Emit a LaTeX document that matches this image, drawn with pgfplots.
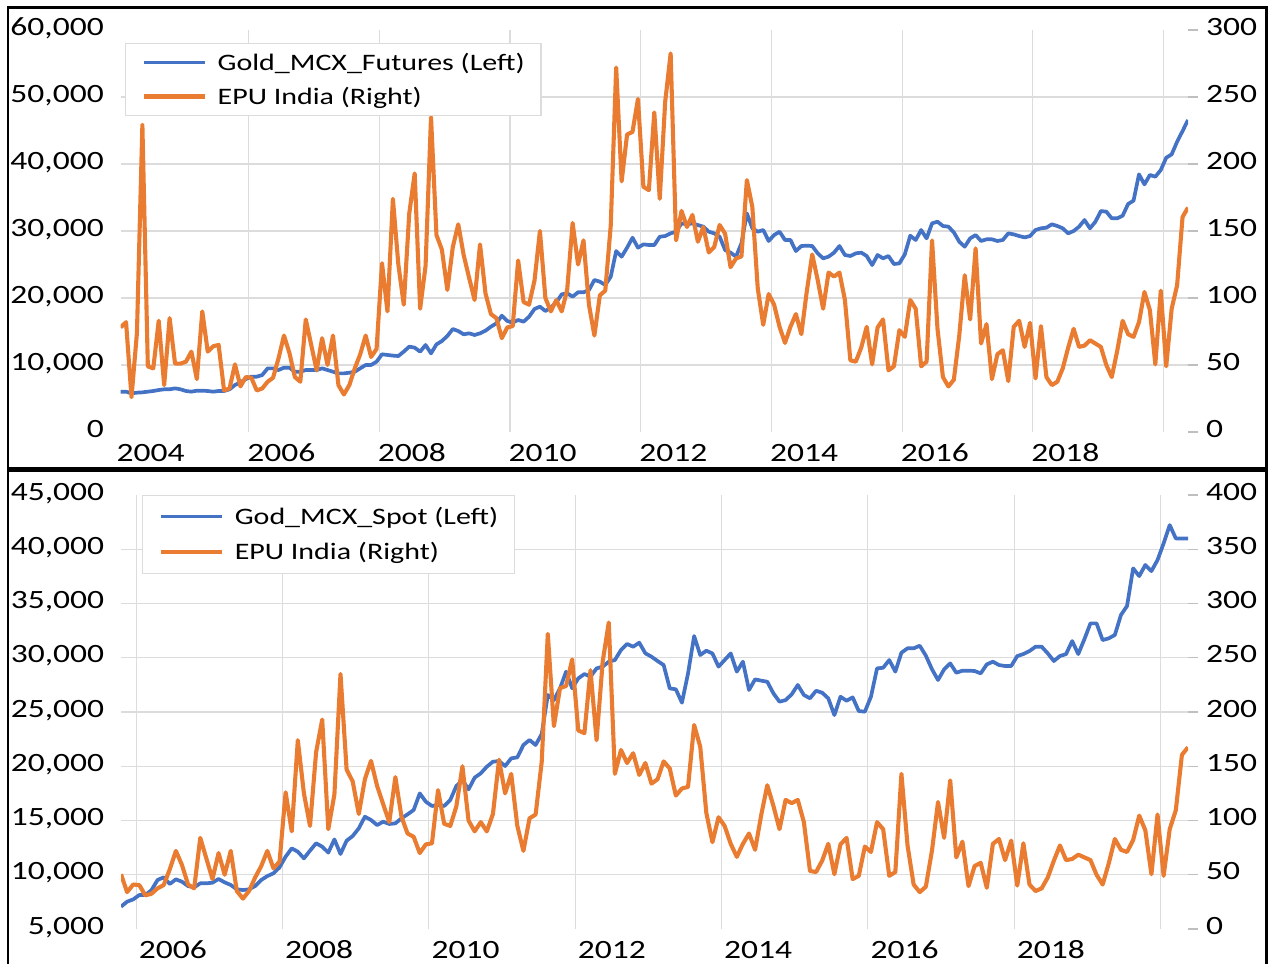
\documentclass[border=0pt]{standalone}
\usepackage{fontspec}
\setmainfont{Carlito}[FakeStretch=1.27]
\usepackage{pgfplots}
\usepackage{pgfplotstable}
\pgfplotsset{compat=1.18}

\definecolor{goldblue}{HTML}{4472C4}
\definecolor{epuorange}{HTML}{E97C30}
\definecolor{gridgray}{HTML}{DCDCDC}
\definecolor{tickgray}{HTML}{BFBFBF}

\newcommand{\tickfont}{\fontsize{13.2bp}{15bp}\selectfont}
\newcommand{\legfont}{\fontsize{11.8bp}{14bp}\selectfont}

% monthly data, m = months since Jan 2004
\pgfplotstableread[row sep=\\]{
m v\\
0 78\\1 82\\2 26\\3 74\\4 229\\5 49\\6 47.5\\7 83\\8 35\\9 85\\
10 51\\11 51\\12 52.5\\13 60\\14 39.5\\15 90\\16 60\\17 64\\18 65\\19 31\\
20 32.5\\21 50.5\\22 34\\23 41\\24 40.5\\25 31\\26 32.5\\27 37.5\\28 40.5\\29 55\\
30 72\\31 59\\32 41\\33 37.5\\34 84\\35 65\\36 46\\37 70\\38 50\\39 72\\
40 35\\41 28\\42 35\\43 47.5\\44 58\\45 72\\46 56\\47 62\\48 126\\49 90\\
50 174\\51 125\\52 95\\53 163\\54 193\\55 92\\56 124\\57 235\\58 147\\59 136\\
60 106\\61 138\\62 155\\63 132\\64 115\\65 98.5\\66 140\\67 103.5\\68 88\\69 85\\
70 70\\71 78\\72 79\\73 128\\74 97\\75 95\\76 113\\77 150\\78 100\\79 90\\
80 98.5\\81 90\\82 106\\83 156\\84 125\\85 143\\86 95\\87 72\\88 102\\89 105.5\\
90 154\\91 272\\92 187\\93 222\\94 224\\95 248.5\\96 183\\97 180.5\\98 238.5\\99 174\\
100 246.5\\101 282.5\\102 143\\103 165\\104 153\\105 162\\106 142\\107 153\\108 134\\109 138\\
110 154.5\\111 148\\112 123\\113 129.5\\114 131\\115 188\\116 168\\117 107\\118 80\\119 103\\
120 95\\121 78.5\\122 66.5\\123 78.5\\124 88\\125 73\\126 105\\127 132.5\\128 113.5\\129 92\\
130 119\\131 116\\132 119\\133 98.5\\134 53.5\\135 52.5\\136 63\\137 78.5\\138 50.5\\139 78\\
140 84\\141 46\\142 49\\143 76\\144 71\\145 98.5\\146 92\\147 49\\148 52.5\\149 143\\
150 77\\151 41\\152 34\\153 39\\154 72\\155 117\\156 84\\157 137\\158 66\\159 80.5\\
160 39.5\\161 58\\162 61\\163 38\\164 78.5\\165 83\\166 63.5\\167 81.5\\168 40\\169 79\\
170 41\\171 35\\172 37.5\\173 47.5\\174 63\\175 77\\176 63.5\\177 64.5\\178 68.5\\179 66\\
180 63.5\\181 50\\182 41\\183 60.5\\184 83\\185 73\\186 71\\187 82\\188 104.5\\189 91\\
190 50.5\\191 105.5\\192 49\\193 92\\194 109.5\\195 160.5\\196 167.5\\
}\epu

\pgfplotstableread[row sep=\\]{
m v\\
0 6020\\1 6020\\2 5770\\3 5870\\4 5920\\5 6020\\6 6120\\7 6270\\8 6370\\9 6370\\
10 6520\\11 6370\\12 6120\\13 6020\\14 6170\\15 6170\\16 6120\\17 6020\\18 6120\\19 6120\\
20 6370\\21 7015\\22 7410\\23 7910\\24 8260\\25 8260\\26 8500\\27 9500\\28 9500\\29 9250\\
30 9600\\31 9600\\32 9000\\33 9000\\34 9250\\35 9250\\36 9250\\37 9500\\38 9250\\39 9000\\
40 8750\\41 8750\\42 8850\\43 9000\\44 9500\\45 10000\\46 10000\\47 10500\\48 11600\\49 11500\\
50 11400\\51 11340\\52 12000\\53 12740\\54 12590\\55 11990\\56 12985\\57 11740\\58 13080\\59 13580\\
60 14330\\61 15370\\62 15070\\63 14580\\64 14730\\65 14480\\66 14730\\67 15120\\68 15720\\69 16220\\
70 17360\\71 16570\\72 16320\\73 16720\\74 16470\\75 17210\\76 18360\\77 18710\\78 18060\\79 18560\\
80 19350\\81 20550\\82 20700\\83 20200\\84 20850\\85 20850\\86 21190\\87 22690\\88 22440\\89 21940\\
90 23180\\91 27010\\92 26170\\93 27510\\94 29000\\95 27510\\96 28010\\97 27910\\98 27910\\99 29150\\
100 29250\\101 29650\\102 29900\\103 31140\\104 30990\\105 31140\\106 30890\\107 30650\\108 29900\\109 29650\\
110 29150\\111 27160\\112 26770\\113 26170\\114 28160\\115 32640\\116 30400\\117 29900\\118 30150\\119 28510\\
120 29400\\121 29900\\122 28660\\123 28660\\124 27010\\125 27760\\126 27810\\127 27760\\128 26670\\129 25920\\
130 26170\\131 26770\\132 27760\\133 26420\\134 26270\\135 26670\\136 26770\\137 26270\\138 24920\\139 26420\\
140 25920\\141 26270\\142 25070\\143 25170\\144 26520\\145 29300\\146 28660\\147 30150\\148 28900\\149 31140\\
150 31390\\151 30750\\152 30650\\153 29800\\154 28400\\155 27660\\156 28900\\157 29400\\158 28510\\159 28760\\
160 28760\\161 28510\\162 28660\\163 29650\\164 29500\\165 29250\\166 29050\\167 29250\\168 30150\\169 30400\\
170 30500\\171 31000\\172 30750\\173 30400\\174 29650\\175 30000\\176 30650\\177 31640\\178 30400\\179 31390\\
180 32980\\181 32890\\182 31890\\183 31890\\184 32290\\185 34030\\186 34530\\187 38460\\188 36960\\189 38360\\
190 38110\\191 39100\\192 40940\\193 41440\\194 43330\\195 44920\\196 46570\\
}\futures

\pgfplotstableread[row sep=\\]{
m v\\
21 7060\\22 7520\\23 7730\\24 8130\\25 8130\\26 8590\\27 9520\\28 9760\\29 9150\\
30 9580\\31 9360\\32 8960\\33 8840\\34 9210\\35 9210\\36 9270\\37 9610\\38 9300\\39 9060\\
40 8660\\41 8590\\42 8660\\43 8960\\44 9520\\45 9880\\46 10130\\47 10680\\48 11670\\49 12430\\
50 12130\\51 11510\\52 12220\\53 12900\\54 12590\\55 12040\\56 13260\\57 11910\\58 13140\\59 13570\\
60 14280\\61 15350\\62 15050\\63 14580\\64 14890\\65 14680\\66 14740\\67 15200\\68 15570\\69 15970\\
70 17500\\71 16730\\72 16340\\73 16430\\74 16340\\75 16890\\76 18180\\77 18730\\78 17870\\79 18950\\
80 19350\\81 19960\\82 20420\\83 20480\\84 20020\\85 20730\\86 20820\\87 21960\\88 22420\\89 21960\\
90 22970\\91 26570\\92 26100\\93 27180\\94 28720\\95 27180\\96 28100\\97 28500\\98 28260\\99 29020\\
100 29180\\101 29640\\102 29790\\103 30710\\104 31270\\105 31020\\106 31390\\107 30410\\108 30100\\109 29700\\
110 29330\\111 27180\\112 27090\\113 25860\\114 28560\\115 32000\\116 30250\\117 30650\\118 30400\\119 29180\\
120 29790\\121 30400\\122 28720\\123 29640\\124 27030\\125 28010\\126 27890\\127 27790\\128 26720\\129 25950\\
130 26100\\131 26630\\132 27490\\133 26570\\134 26260\\135 26960\\136 26780\\137 26260\\138 24720\\139 26410\\
140 26040\\141 26350\\142 25090\\143 25030\\144 26410\\145 29020\\146 29080\\147 29790\\148 28720\\149 30470\\
150 30870\\151 30870\\152 31110\\153 30200\\154 28950\\155 27950\\156 28930\\157 29480\\158 28620\\159 28810\\
160 28810\\161 28780\\162 28560\\163 29390\\164 29640\\165 29330\\166 29240\\167 29240\\168 30160\\169 30340\\
170 30620\\171 31020\\172 31020\\173 30400\\174 29700\\175 30160\\176 30340\\177 31540\\178 30340\\179 31700\\
180 33170\\181 33170\\182 31630\\183 31790\\184 32100\\185 33940\\186 34770\\187 38240\\188 37530\\189 38550\\
190 37990\\191 39010\\192 40540\\193 42230\\194 41000\\195 41000\\196 41000\\
}\spot

\pgfplotsset{
  panel/.style={
    scale only axis,
    axis line style={draw=none},
    scaled y ticks=false,
    tick label style={font=\tickfont},
    /pgf/number format/1000 sep={,},
    /pgf/number format/assume math mode=true,
  },
  leftaxis/.style={
    panel,
    major tick length=0pt,
    ymajorgrids,
    grid style={draw=gridgray, line width=0.55bp},
    extra y tick style={grid=none},
    extra x ticks={23.5,47.5,...,191.5},
    extra x tick labels={},
    extra x tick style={grid=major},
    yticklabel style={anchor=base east, inner sep=0pt, xshift=-8.2bp, yshift=-2.5bp},
    xticklabel style={anchor=base, inner sep=0pt, yshift=-14.8bp},
  },
  rightaxis/.style={
    panel,
    xtick=\empty,
    ytick pos=right,
    yticklabel pos=right,
    tick align=outside,
    major tick length=5bp,
    tick style={draw=tickgray, line width=0.6bp},
    yticklabel style={anchor=base west, inner sep=0pt, xshift=3.8bp, yshift=-2.5bp},
    legend cell align=left,
    legend image code/.code={\draw[##1] (0bp,0bp) -- (30.5bp,0bp);},
    legend style={draw=gridgray, line width=0.6bp, fill=white, font=\legfont,
      inner xsep=8.2bp, inner ysep=1bp, row sep=0pt,
      nodes={inner sep=0pt, text height=12.3bp, text depth=4.7bp},
      /tikz/every odd column/.style={column sep=5.5bp}},
  },
  goldline/.style={draw=goldblue, line width=1.85bp, line join=round},
  epuline/.style={draw=epuorange, line width=2.05bp, line join=round},
}

\begin{document}
\begin{tikzpicture}
\useasboundingbox (0,0) rectangle (635.5bp,-482bp);
\clip (0,0) rectangle (635.5bp,-482bp);

% top panel: futures
\begin{axis}[leftaxis,
  at={(60.3bp,-216bp)}, anchor=south west,
  width=533.7bp, height=201bp,
  xmin=0, xmax=196, ymin=0, ymax=60000,
  xtick={5.5,29.5,53.5,77.5,101.5,125.5,149.5,173.5},
  xticklabels={2004,2006,2008,2010,2012,2014,2016,2018},
  ytick={10000,20000,30000,40000,50000},
  extra y ticks={0,60000}]
\addplot[goldline] table[x=m, y=v]{\futures};
\end{axis}
\begin{axis}[rightaxis,
  at={(60.3bp,-216bp)}, anchor=south west,
  width=533.7bp, height=201bp,
  xmin=0, xmax=196, ymin=0, ymax=300,
  ytick={0,50,...,300},
  legend style={at={(0.0037,0.968)}, anchor=north west}]
\addlegendimage{goldline}
\addlegendentry{Gold\_MCX\_Futures (Left)}
\addplot[epuline] table[x=m, y=v]{\epu};
\addlegendentry{EPU India (Right)}
\end{axis}

% bottom panel: spot
\begin{axis}[leftaxis,
  at={(60.5bp,-464.5bp)}, anchor=south west,
  width=533.5bp, height=217bp,
  xmin=21, xmax=196, ymin=5000, ymax=45000,
  xtick={29.5,53.5,77.5,101.5,125.5,149.5,173.5},
  xticklabels={2006,2008,2010,2012,2014,2016,2018},
  ytick={10000,15000,...,40000},
  extra y ticks={5000,45000}]
\addplot[goldline] table[x=m, y=v]{\spot};
\end{axis}
\begin{axis}[rightaxis,
  at={(60.5bp,-464.5bp)}, anchor=south west,
  width=533.5bp, height=217bp,
  xmin=21, xmax=196, ymin=0, ymax=400,
  ytick={0,50,...,400},
  legend style={at={(0.0194,1.0)}, anchor=north west, inner ysep=2bp, row sep=0.8bp}]
\addlegendimage{goldline}
\addlegendentry{God\_MCX\_Spot (Left)}
\addplot[epuline, restrict x to domain=21:196] table[x=m, y=v]{\epu};
\addlegendentry{EPU India (Right)}
\end{axis}

\draw[line width=1.2bp] (4bp,-3.75bp) rectangle (633.25bp,-234.25bp);
\draw[line width=1.2bp] (4bp,-235.35bp) rectangle (633.25bp,-520bp);
\end{tikzpicture}
\end{document}
